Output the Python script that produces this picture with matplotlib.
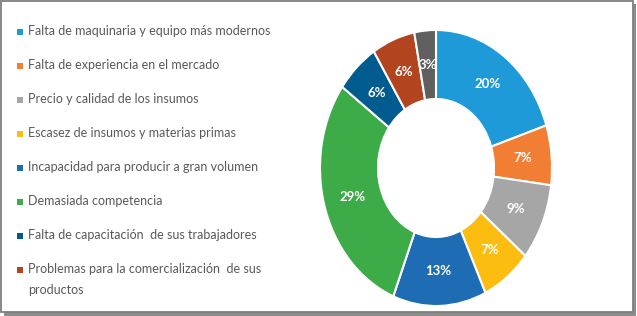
import matplotlib
matplotlib.use("Agg")
import matplotlib.pyplot as plt
from matplotlib.patches import Rectangle

# Chart data
labels = [
    "Falta de maquinaria y equipo más modernos",
    "Falta de experiencia en el mercado",
    "Precio y calidad de los insumos",
    "Escasez de insumos y materias primas",
    "Incapacidad para producir a gran volumen",
    "Demasiada competencia",
    "Falta de capacitación  de sus trabajadores",
    "Problemas para la comercialización  de sus\nproductos",
    "Otros",
]
values = [20, 7, 9, 7, 13, 29, 6, 6, 3]
colors = ["#1f9ad8", "#f27e33", "#a6a6a6", "#fdbd10", "#1e6cb3",
          "#3dab47", "#005b8e", "#b2441f", "#5f5f5f"]
legend_count = 8  # the last slice has no legend entry in the picture

plt.rcParams["font.family"] = ["Lato", "DejaVu Sans"]

W, H = 637, 316
fig = plt.figure(figsize=(W / 100, H / 100), dpi=100)

# frame with a small shadow
fig.patches.append(Rectangle((4 / W, 0), 632 / W, 312 / H, transform=fig.transFigure,
                             facecolor="#8c8c8c", edgecolor="none", zorder=0))
fig.patches.append(Rectangle((1 / W, 4 / H), 632 / W, 311 / H, transform=fig.transFigure,
                             facecolor="white", edgecolor="#7f7f7f", linewidth=1.3, zorder=1))

# donut (slightly taller than wide, like the source)
ax = fig.add_axes([320 / W, 10 / H, 232 / W, 276 / H])
ax.set_zorder(5)
ax.patch.set_visible(False)
wedges, texts, autotexts = ax.pie(
    values, colors=colors, startangle=90, counterclock=False,
    autopct="%.0f%%", pctdistance=0.75,
    wedgeprops=dict(width=0.5, edgecolor="white", linewidth=1.5),
    textprops=dict(color="white", fontsize=9.5, fontweight="bold"),
)
ax.set_xlim(-1.0, 1.0)
ax.set_ylim(-1.0, 1.0)
ax.set_aspect("auto")

# legend drawn by hand
y0, step = 32, 34
for i in range(legend_count):
    y = y0 + i * step
    fig.patches.append(Rectangle((17 / W, 1 - (y + 3) / H), 6 / W, 6 / H,
                                 transform=fig.transFigure, facecolor=colors[i],
                                 edgecolor="none", zorder=3))
    fig.text(28 / W, 1 - (y - 7) / H, labels[i], ha="left", va="top",
             fontsize=9, color="#595959", linespacing=1.9, zorder=3)

fig.savefig("out.png", dpi=100)
